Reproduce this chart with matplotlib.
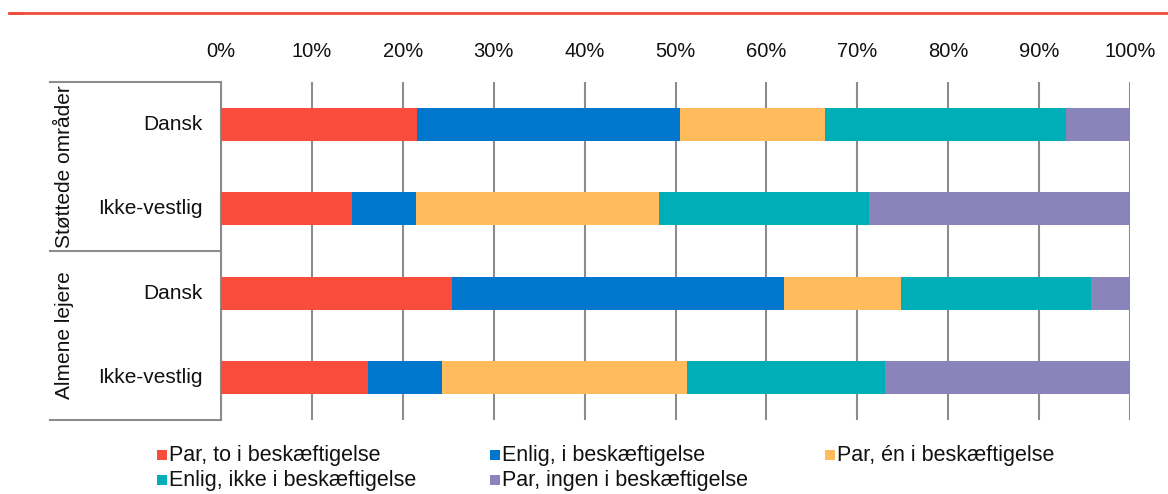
import matplotlib.pyplot as plt
from matplotlib.lines import Line2D
from matplotlib.patches import Rectangle
import numpy as np

plt.rcParams['font.family'] = ['Liberation Sans', 'DejaVu Sans']

# rows, top to bottom
groups = ['Støttede områder', 'Almene lejere']
rows = ['Dansk', 'Ikke-vestlig', 'Dansk', 'Ikke-vestlig']

series = ['Par, to i beskæftigelse', 'Enlig, i beskæftigelse', 'Par, én i beskæftigelse',
          'Enlig, ikke i beskæftigelse', 'Par, ingen i beskæftigelse']
par_to = [21.6, 14.4, 25.4, 16.2]
enlig_i = [28.9, 7.0, 36.5, 8.1]
par_en = [15.9, 26.8, 12.9, 27.0]
enlig_ikke = [26.6, 23.1, 20.9, 21.8]
par_ingen = [7.0, 28.7, 4.3, 26.9]
colors = ['#F84D3D', '#0077CC', '#FFBB5C', '#00AEB8', '#8985BB']

W, H = 1168, 494
fig = plt.figure(figsize=(W / 100, H / 100), dpi=100)
ax = fig.add_axes([221 / W, 1 - 420 / H, (1130 - 221) / W, (420 - 82) / H])

y = np.arange(len(rows))
left = np.zeros(len(rows))
for vals, c in zip([par_to, enlig_i, par_en, enlig_ikke, par_ingen], colors):
    ax.barh(y, vals, left=left, height=0.39, color=c, zorder=3)
    left += np.array(vals)

ax.set_xlim(0, 100)
ax.set_ylim(3.5, -0.5)
ax.set_xticks(range(0, 101, 10))
ax.set_xticklabels([f'{t}%' for t in range(0, 101, 10)])
ax.xaxis.tick_top()
ax.tick_params(axis='x', length=0, pad=15, labelsize=14.5, colors='#111111')
ax.set_yticks([])
ax.grid(axis='x', color='#8c8c8c', linewidth=1.5, zorder=0)
for s in ['top', 'right', 'bottom']:
    ax.spines[s].set_visible(False)
ax.spines['left'].set_color('#8c8c8c')
ax.spines['left'].set_linewidth(1.5)

# row labels and group box
for i, r in enumerate(rows):
    ax.text(-2, i, r, ha='right', va='center', fontsize=15, color='#111111')
for yy in [82, 251, 420]:
    fig.add_artist(Line2D([50 / W, 221 / W], [1 - yy / H] * 2, color='#8c8c8c', lw=1.5))
for g, (y0, y1) in zip(groups, [(82, 251), (251, 420)]):
    fig.text(65 / W, 1 - (y0 + y1) / 2 / H, g, rotation=90, ha='center', va='center',
             fontsize=15, color='#111111')

# red line at top
fig.add_artist(Line2D([9 / W, 1], [1 - 13 / H] * 2, color='#F04E3A', lw=2))
fig.add_artist(Rectangle((9 / W, 1 - 15 / H), 15 / W, 3 / H, color='#F04E3A', lw=0))

# legend
pos = [(157, 455), (490, 455), (825, 455), (157, 480), (490, 480)]
for (px, py), name, c in zip(pos, series, colors):
    fig.add_artist(Rectangle((px / W, 1 - (py + 5) / H), 10 / W, 10 / H, color=c, lw=0))
    fig.text((px + 12) / W, 1 - py / H, name, ha='left', va='center', fontsize=15.5, color='#111111')

fig.savefig('out.png', dpi=100)
